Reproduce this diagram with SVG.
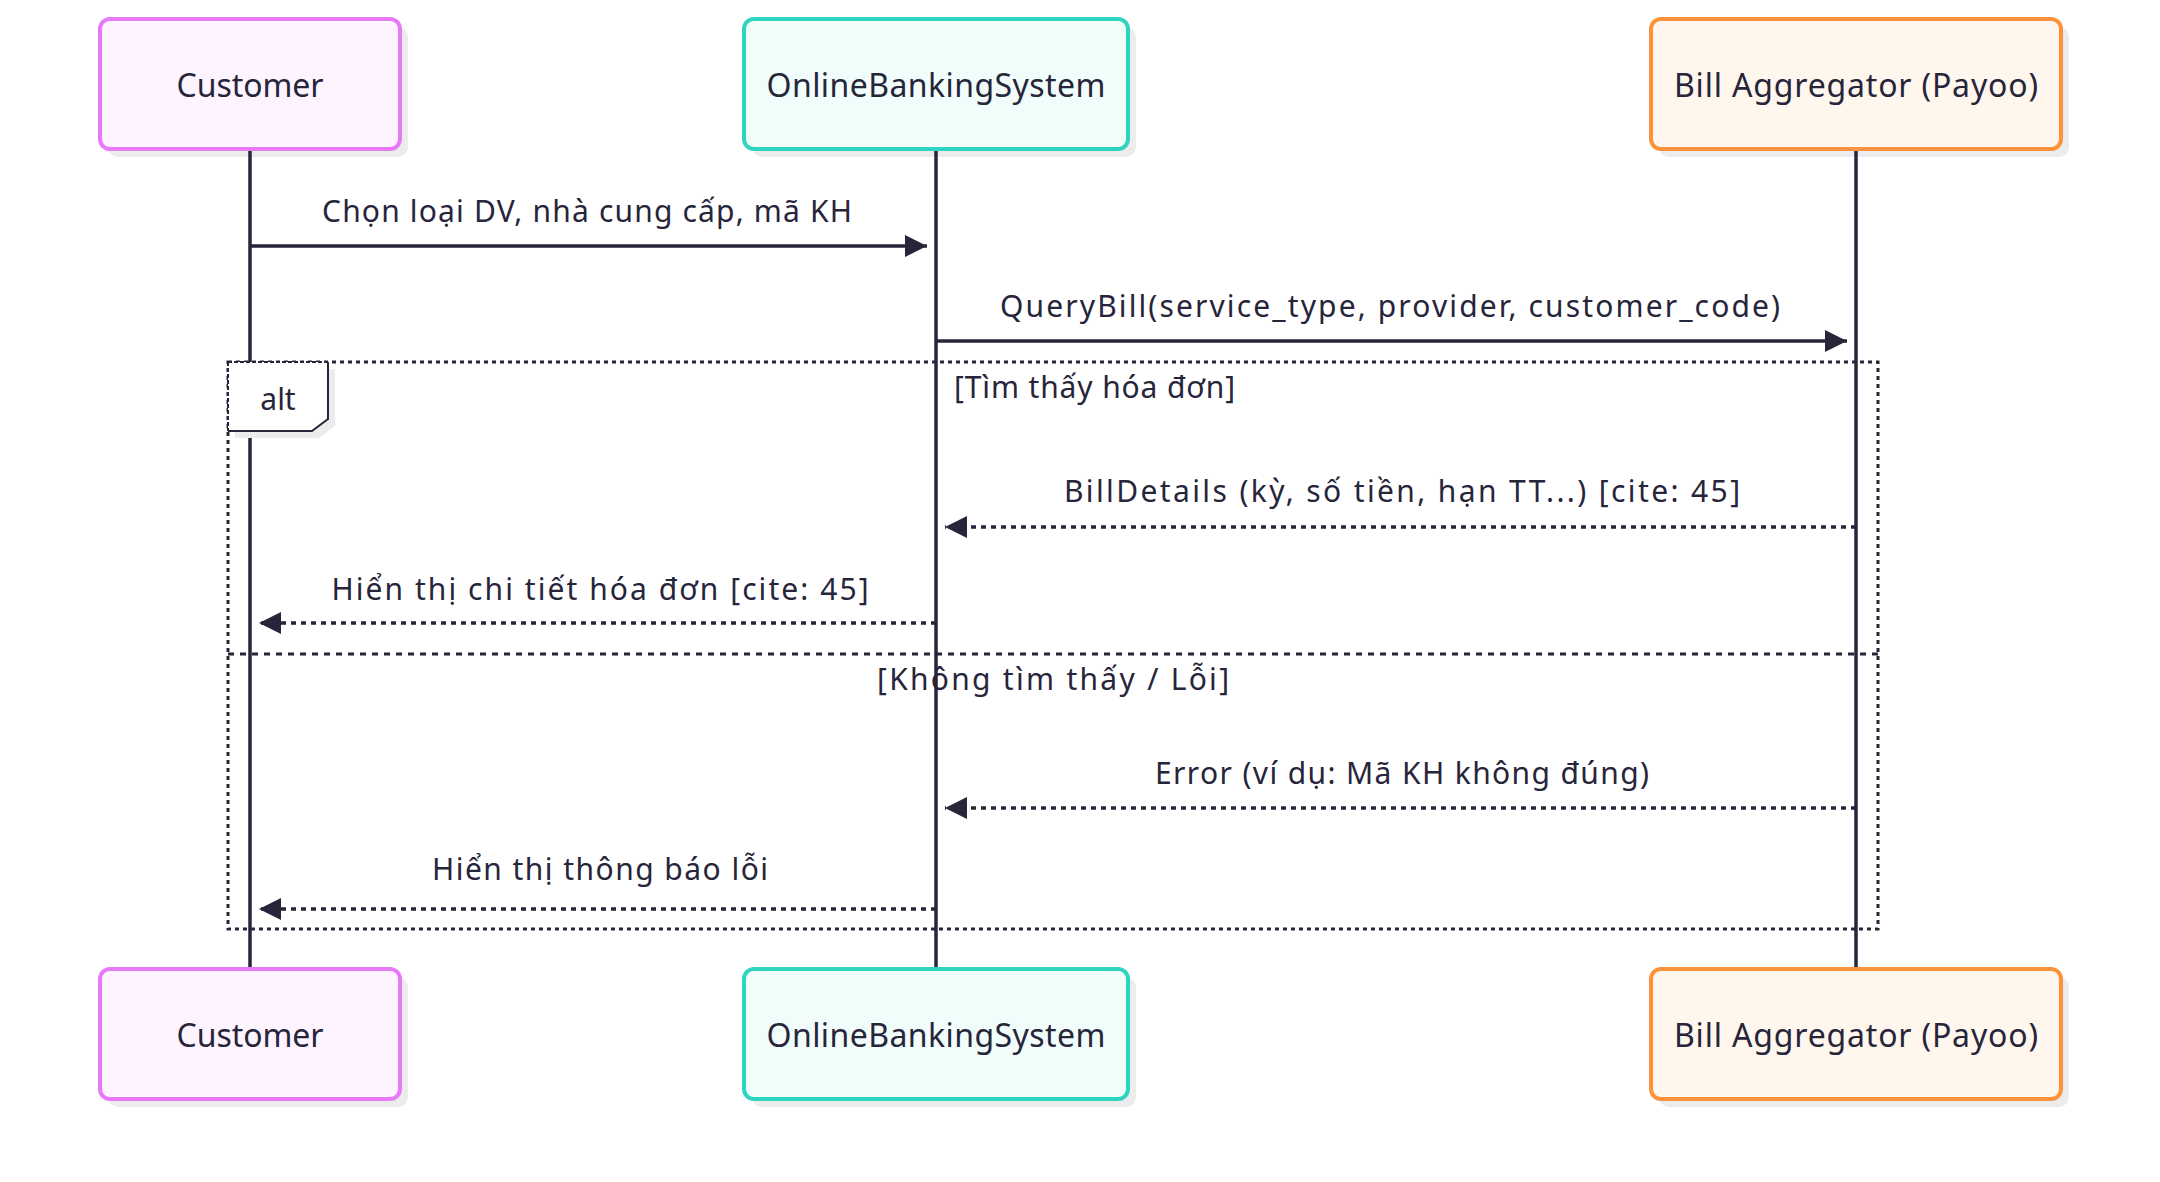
<svg xmlns="http://www.w3.org/2000/svg" width="2160" height="1182" viewBox="0 0 2160 1182">
  <style>
    .bg { fill: #ffffff; }
    .shadow { fill: #ececec; }
    .actor-c { fill: #fdf4ff; stroke: #e879f9; stroke-width: 4; }
    .actor-o { fill: #f0fdfa; stroke: #2dd4bf; stroke-width: 4; }
    .actor-b { fill: #fff7ed; stroke: #fb923c; stroke-width: 4; }
    .atext { font-family: "Noto Sans", "Liberation Sans", sans-serif; font-size: 32px; fill: #27253a; text-anchor: middle; }
    .mtext { font-family: "Noto Sans", "Liberation Sans", sans-serif; font-size: 30px; fill: #27253a; text-anchor: middle; }
    .ltext { font-family: "Noto Sans", "Liberation Sans", sans-serif; font-size: 30px; fill: #27253a; }
    .lifeline { stroke: #27253a; stroke-width: 3.5; }
    .msg { stroke: #27253a; stroke-width: 3.5; fill: none; marker-end: url(#arrow); }
    .msg-dash { stroke: #27253a; stroke-width: 3.5; fill: none; stroke-dasharray: 5 5; marker-end: url(#arrow); }
    .loop { stroke: #27253a; stroke-width: 3; fill: none; stroke-dasharray: 4 4; }
    .sep { stroke: #27253a; stroke-width: 3; fill: none; stroke-dasharray: 6 6; }
  </style>
  <defs>
    <marker id="arrow" markerUnits="userSpaceOnUse" markerWidth="24" markerHeight="24" refX="22" refY="11" orient="auto">
      <path d="M0,0 L22,11 L0,22 Z" fill="#27253a"/>
    </marker>
  </defs>
  <rect class="bg" x="0" y="0" width="2160" height="1182"/>

  <g id="actor-customer-top">
    <rect class="shadow" x="108" y="27" width="300" height="130" rx="10"/>
    <rect class="actor-c" x="100" y="19" width="300" height="130" rx="10"/>
    <text class="atext" x="250" y="97" textLength="147">Customer</text>
  </g>
  <g id="actor-obs-top">
    <rect class="shadow" x="752" y="27" width="384" height="130" rx="10"/>
    <rect class="actor-o" x="744" y="19" width="384" height="130" rx="10"/>
    <text class="atext" x="936" y="97" textLength="339">OnlineBankingSystem</text>
  </g>
  <g id="actor-bill-top">
    <rect class="shadow" x="1659" y="27" width="410" height="130" rx="10"/>
    <rect class="actor-b" x="1651" y="19" width="410" height="130" rx="10"/>
    <text class="atext" x="1856" y="97" textLength="364">Bill Aggregator (Payoo)</text>
  </g>
  <g id="actor-customer-bottom">
    <rect class="shadow" x="108" y="977" width="300" height="130" rx="10"/>
    <rect class="actor-c" x="100" y="969" width="300" height="130" rx="10"/>
    <text class="atext" x="250" y="1047" textLength="147">Customer</text>
  </g>
  <g id="actor-obs-bottom">
    <rect class="shadow" x="752" y="977" width="384" height="130" rx="10"/>
    <rect class="actor-o" x="744" y="969" width="384" height="130" rx="10"/>
    <text class="atext" x="936" y="1047" textLength="339">OnlineBankingSystem</text>
  </g>
  <g id="actor-bill-bottom">
    <rect class="shadow" x="1659" y="977" width="410" height="130" rx="10"/>
    <rect class="actor-b" x="1651" y="969" width="410" height="130" rx="10"/>
    <text class="atext" x="1856" y="1047" textLength="364">Bill Aggregator (Payoo)</text>
  </g>

  <g id="lifelines">
    <line class="lifeline" x1="250" y1="151" x2="250" y2="967"/>
    <line class="lifeline" x1="936" y1="151" x2="936" y2="967"/>
    <line class="lifeline" x1="1856" y1="151" x2="1856" y2="967"/>
  </g>

  <g id="alt-frame">
    <rect class="loop" x="228" y="362" width="1650" height="567"/>
    <line class="sep" x1="228" y1="654" x2="1878" y2="654"/>
    <polygon class="shadow" points="235,369 335,369 335,426 319,438 235,438"/>
    <polygon fill="#ffffff" points="228,362 328,362 328,419 312,431 228,431"/>
    <path d="M328,362 L328,419 L312,431 L228,431" fill="none" stroke="#27253a" stroke-width="2"/>
    <path d="M228,362 L328,362 M228,362 L228,431" fill="none" stroke="#27253a" stroke-width="2" stroke-dasharray="4 2"/>
    <text class="mtext" x="278" y="410">alt</text>
    <text class="ltext" x="954" y="398" textLength="281">[Tìm thấy hóa đơn]</text>
    <text class="mtext" x="1053" y="690" textLength="352">[Không tìm thấy / Lỗi]</text>
  </g>

  <g id="connectors">
    <line class="msg" x1="250" y1="246" x2="927" y2="246"/>
    <text class="mtext" x="587" y="222" textLength="530">Chọn loại DV, nhà cung cấp, mã KH</text>
    <line class="msg" x1="936" y1="341" x2="1847" y2="341"/>
    <text class="mtext" x="1390" y="317" textLength="780">QueryBill(service_type, provider, customer_code)</text>
    <line class="msg-dash" x1="1856" y1="527" x2="945" y2="527"/>
    <text class="mtext" x="1402" y="502" textLength="676">BillDetails (kỳ, số tiền, hạn TT...) [cite: 45]</text>
    <line class="msg-dash" x1="936" y1="623" x2="259" y2="623"/>
    <text class="mtext" x="600" y="600" textLength="537">Hiển thị chi tiết hóa đơn [cite: 45]</text>
    <line class="msg-dash" x1="1856" y1="808" x2="945" y2="808"/>
    <text class="mtext" x="1402" y="784" textLength="494">Error (ví dụ: Mã KH không đúng)</text>
    <line class="msg-dash" x1="936" y1="909" x2="259" y2="909"/>
    <text class="mtext" x="600" y="880" textLength="336">Hiển thị thông báo lỗi</text>
  </g>
</svg>
